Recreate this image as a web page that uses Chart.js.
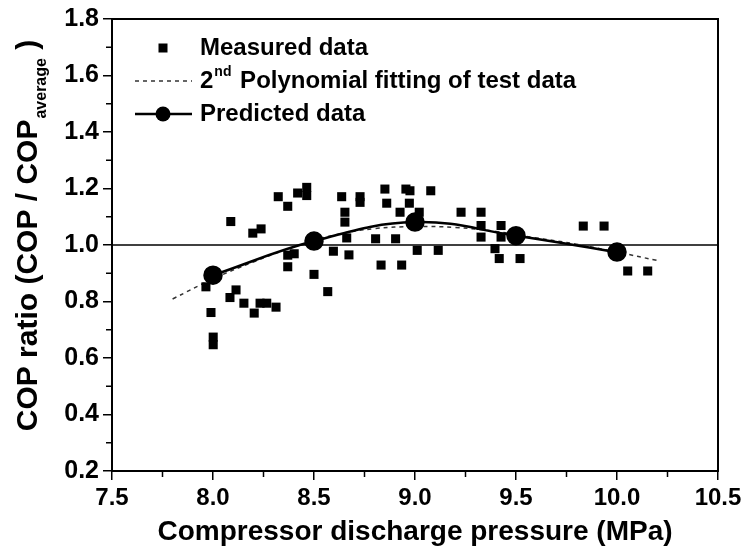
<!DOCTYPE html>
<html>
<head>
<meta charset="utf-8">
<title>COP ratio vs compressor discharge pressure</title>
<script src="https://cdn.jsdelivr.net/npm/chart.js@4.4.0/dist/chart.umd.min.js"></script>
<style>
  body { margin: 0; background: #fff; }
  #wrap { width: 750px; height: 553px; }
</style>
</head>
<body>
<div id="wrap"><canvas id="chart-cop" width="750" height="553"></canvas></div>
<script>
// measured test points (MPa, COP ratio)
var measuredX = [7.965, 7.990, 8.001, 8.001, 8.084, 8.088, 8.114, 8.153, 8.197, 8.204,
                 8.233, 8.238, 8.266, 8.312, 8.323, 8.370, 8.370, 8.370, 8.402, 8.419,
                 8.464, 8.464, 8.500, 8.568, 8.596, 8.637, 8.653, 8.653, 8.662, 8.673,
                 8.728, 8.728, 8.805, 8.832, 8.851, 8.860, 8.904, 8.926, 8.934, 8.955,
                 8.975, 8.972, 9.011, 9.021, 9.078, 9.115, 9.228, 9.327, 9.327, 9.327,
                 9.396, 9.417, 9.426, 9.426, 9.520, 9.833, 9.936, 10.053, 10.152];
var measuredY = [0.852, 0.761, 0.674, 0.647, 0.814, 1.083, 0.841, 0.794, 1.042, 0.759,
                 0.794, 1.057, 0.794, 0.780, 1.171, 1.137, 0.964, 0.923, 0.969, 1.184,
                 1.204, 1.175, 0.896, 0.835, 0.978, 1.171, 1.116, 1.081, 1.025, 0.965,
                 1.171, 1.151, 1.022, 0.929, 1.198, 1.148, 1.022, 1.116, 0.929, 1.198,
                 1.192, 1.148, 0.981, 1.116, 1.192, 0.981, 1.116, 1.116, 1.069, 1.028,
                 0.987, 0.952, 1.069, 1.028, 0.952, 1.067, 1.067, 0.908, 0.908];

// 2nd order polynomial fit
var fitX = [7.8, 8.0, 8.2, 8.4, 8.6, 8.8, 9.0, 9.2, 9.4, 9.6, 9.8, 10.0, 10.2];
var fitY = [0.809, 0.880, 0.940, 0.993, 1.035, 1.058, 1.065, 1.062, 1.048, 1.025, 1.003, 0.975, 0.945];

// predicted values
var predictedX = [8.0, 8.5, 9.0, 9.5, 10.0];
var predictedY = [0.893, 1.014, 1.081, 1.033, 0.975];

// reference line COP ratio = 1
var refX = [7.5, 10.5];
var refY = [1.0, 1.0];

// axis ticks
var xMajorTicks = [7.5, 8.0, 8.5, 9.0, 9.5, 10.0, 10.5];
var xMinorTicks = [7.75, 8.25, 8.75, 9.25, 9.75, 10.25];
var yMajorTicks = [0.2, 0.4, 0.6, 0.8, 1.0, 1.2, 1.4, 1.6, 1.8];
var yMinorTicks = [0.3, 0.5, 0.7, 0.9, 1.1, 1.3, 1.5, 1.7];

var xTitle = 'Compressor discharge pressure (MPa)';
var yTitleMain = 'COP ratio (COP / COP';
var yTitleSub = 'average';
var yTitleEnd = ' )';

function pts(xs, ys) {
  return xs.map(function (x, i) { return { x: x, y: ys[i] }; });
}

var FONT = '"Liberation Sans", Arial, Helvetica, sans-serif';

// box round the plot, short minor ticks, y title with subscript
var framePlugin = {
  id: 'frame',
  afterDraw: function (chart) {
    var ctx = chart.ctx, a = chart.chartArea;
    var xs = chart.scales.x, ys = chart.scales.y;
    ctx.save();
    ctx.strokeStyle = '#000';
    ctx.lineWidth = 2;
    ctx.strokeRect(a.left, a.top, a.right - a.left, a.bottom - a.top);

    ctx.lineWidth = 1.5;
    ctx.beginPath();
    xMinorTicks.forEach(function (v) {
      var px = xs.getPixelForValue(v);
      ctx.moveTo(px, a.bottom);
      ctx.lineTo(px, a.bottom + 6);
    });
    yMinorTicks.forEach(function (v) {
      var py = ys.getPixelForValue(v);
      ctx.moveTo(a.left, py);
      ctx.lineTo(a.left - 6, py);
    });
    ctx.stroke();

    // y axis title
    ctx.fillStyle = '#000';
    ctx.translate(37, 236);
    ctx.rotate(-Math.PI / 2);
    var mainFont = 'bold 30px ' + FONT;
    var subFont = 'bold 16px ' + FONT;
    ctx.font = mainFont;
    var w1 = ctx.measureText(yTitleMain).width;
    var w3 = ctx.measureText(yTitleEnd).width;
    ctx.font = subFont;
    var w2 = ctx.measureText(yTitleSub).width;
    var x0 = -(w1 + w2 + w3) / 2;
    ctx.textBaseline = 'alphabetic';
    ctx.textAlign = 'left';
    ctx.font = mainFont;
    ctx.fillText(yTitleMain, x0, 0);
    ctx.font = subFont;
    ctx.fillText(yTitleSub, x0 + w1 + 1, 9);
    ctx.font = mainFont;
    ctx.fillText(yTitleEnd, x0 + w1 + w2 + 1, 0);
    ctx.restore();
  }
};

// legend drawn inside the plot area
var legendPlugin = {
  id: 'insideLegend',
  afterDraw: function (chart) {
    var ctx = chart.ctx, a = chart.chartArea;
    var items = chart.data.datasets
      .filter(function (d) { return d.legendOrder !== undefined; })
      .sort(function (p, q) { return p.legendOrder - q.legendOrder; });
    var big = 'bold 24px ' + FONT, small = 'bold 14px ' + FONT;
    items.forEach(function (ds, i) {
      var y = a.top + 29 + i * 33;
      var cx = a.left + 51;
      ctx.save();
      if (ds.showLine) {
        ctx.strokeStyle = ds.borderColor;
        ctx.lineWidth = ds.borderWidth;
        ctx.setLineDash(ds.borderDash || []);
        ctx.beginPath();
        ctx.moveTo(a.left + 23, y);
        ctx.lineTo(a.left + 80, y);
        ctx.stroke();
        ctx.setLineDash([]);
      }
      ctx.fillStyle = '#000';
      if (ds.pointRadius > 0 && ds.pointStyle === 'rect') {
        ctx.fillRect(cx - 4.5, y - 4.5, 9, 9);
      } else if (ds.pointRadius > 0) {
        ctx.beginPath();
        ctx.arc(cx, y, 7.5, 0, Math.PI * 2);
        ctx.fill();
      }
      var tx = a.left + 88;
      ctx.textBaseline = 'middle';
      ctx.textAlign = 'left';
      ctx.font = big;
      var m = ds.label.match(/^(\d+)(st|nd|rd|th)(.*)$/);
      if (m) {
        ctx.fillText(m[1], tx, y);
        tx += ctx.measureText(m[1]).width + 1;
        ctx.font = small;
        ctx.fillText(m[2], tx, y - 9);
        tx += ctx.measureText(m[2]).width + 2;
        ctx.font = big;
        ctx.fillText(m[3], tx, y);
      } else {
        ctx.fillText(ds.label, tx, y);
      }
      ctx.restore();
    });
  }
};

var ctx = document.getElementById('chart-cop');
new Chart(ctx, {
  type: 'scatter',
  data: {
    datasets: [{
      label: 'Predicted data',
      legendOrder: 2,
      data: pts(predictedX, predictedY),
      showLine: true,
      tension: 0.4,
      borderColor: '#000',
      backgroundColor: '#000',
      borderWidth: 2.5,
      pointStyle: 'circle',
      pointRadius: 8.5,
      pointHoverRadius: 8.5
    }, {
      label: 'Measured data',
      legendOrder: 0,
      data: pts(measuredX, measuredY),
      showLine: false,
      pointStyle: 'rect',
      pointRadius: 6.4,
      pointHoverRadius: 6.4,
      borderWidth: 0,
      backgroundColor: '#000',
      borderColor: '#000'
    }, {
      label: '2nd Polynomial fitting of test data',
      legendOrder: 1,
      data: pts(fitX, fitY),
      showLine: true,
      tension: 0.4,
      borderColor: '#333',
      borderWidth: 1.5,
      borderDash: [4, 4],
      pointRadius: 0,
      pointHoverRadius: 0
    }, {
      label: 'COP ratio = 1',
      data: pts(refX, refY),
      showLine: true,
      borderColor: '#000',
      borderWidth: 1.5,
      pointRadius: 0,
      pointHoverRadius: 0
    }]
  },
  options: {
    responsive: false,
    animation: false,
    layout: { padding: { left: 0, top: 16, right: 32, bottom: 0 } },
    plugins: {
      legend: { display: false },
      tooltip: { enabled: false }
    },
    scales: {
      x: {
        type: 'linear',
        min: 7.5,
        max: 10.5,
        afterBuildTicks: function (scale) {
          scale.ticks = xMajorTicks.map(function (v) { return { value: v }; });
        },
        afterFit: function (scale) { scale.height = 82; },
        border: { display: true, color: '#000', width: 2 },
        grid: { drawOnChartArea: false, color: '#000', lineWidth: 1.5, tickLength: 9 },
        ticks: {
          color: '#000',
          font: { family: FONT, size: 24, weight: 'bold' },
          padding: 4,
          maxRotation: 0,
          callback: function (v) { return Number(v).toFixed(1); }
        },
        title: {
          display: true,
          text: xTitle,
          color: '#000',
          font: { family: FONT, size: 28, weight: 'bold' },
          padding: { top: 0, bottom: 4 }
        }
      },
      y: {
        type: 'linear',
        min: 0.2,
        max: 1.8,
        afterBuildTicks: function (scale) {
          scale.ticks = yMajorTicks.map(function (v) { return { value: v }; });
        },
        afterFit: function (scale) { scale.width = 112; },
        border: { display: true, color: '#000', width: 2 },
        grid: { drawOnChartArea: false, color: '#000', lineWidth: 1.5, tickLength: 9 },
        ticks: {
          color: '#000',
          font: { family: FONT, size: 25, weight: 'bold' },
          padding: 4,
          callback: function (v) { return Number(v).toFixed(1); }
        }
      }
    }
  },
  plugins: [framePlugin, legendPlugin]
});
</script>
</body>
</html>
